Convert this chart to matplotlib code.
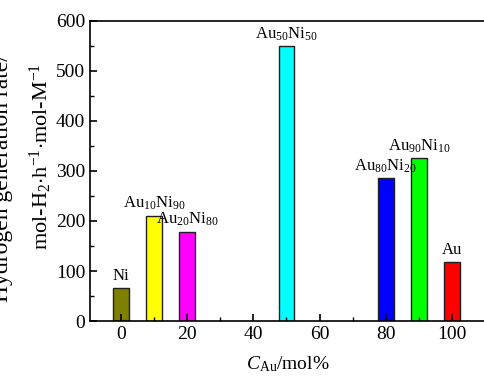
import matplotlib
matplotlib.use("Agg")
import matplotlib.pyplot as plt

plt.rcParams['font.family'] = ['Liberation Serif', 'DejaVu Serif']
plt.rcParams['mathtext.fontset'] = 'custom'
plt.rcParams['mathtext.rm'] = 'Liberation Serif'
plt.rcParams['mathtext.it'] = 'Liberation Serif:italic'

compositions = [0, 10, 20, 50, 80, 90, 100]
rates = [66, 210, 178, 549, 285, 325, 118]
labels = ['Ni', r'Au$_{10}$Ni$_{90}$', r'Au$_{20}$Ni$_{80}$', r'Au$_{50}$Ni$_{50}$',
          r'Au$_{80}$Ni$_{20}$', r'Au$_{90}$Ni$_{10}$', 'Au']
colors = ['#808000', '#FFFF00', '#FF00FF', '#00FFFF', '#0000FF', '#00FF00', '#FF0000']

fig = plt.figure(figsize=(4.84, 3.81), dpi=100)
ax = fig.add_axes([90/484, 60/381, 1 - 90/484 + 0.002, 300/381])

ax.bar(compositions, rates, width=4.8, color=colors, edgecolor='#202020', linewidth=1)
for x, v, lab in zip(compositions, rates, labels):
    ax.text(x, v + 7, lab, ha='center', va='bottom', fontsize=12)

ax.set_xlim(-9.4, 110)
ax.set_ylim(0, 600)
ax.set_xticks([0, 20, 40, 60, 80, 100])
ax.set_xticks([10, 30, 50, 70, 90], minor=True)
ax.set_yticks([0, 100, 200, 300, 400, 500, 600])
ax.set_yticks([50, 150, 250, 350, 450, 550], minor=True)
ax.tick_params(axis='both', which='major', direction='in', length=5, width=1.2, labelsize=14)
ax.tick_params(axis='both', which='minor', direction='in', length=3, width=1)
for s in ax.spines.values():
    s.set_linewidth(1.2)

ax.set_xlabel(r'$\it{C}$$_{\rm Au}$/mol%', fontsize=14, labelpad=8)
fig.text(3/484, 1 - 178/381, 'Hydrogen generation rate/', rotation=90, ha='center', va='center', fontsize=17)
fig.text(41/484, 1 - 157/381, r'mol-H$_2$$\cdot$h$^{-1}$$\cdot$mol-M$^{-1}$', rotation=90,
         ha='center', va='center', fontsize=16)

fig.savefig('out.png', dpi=100)
